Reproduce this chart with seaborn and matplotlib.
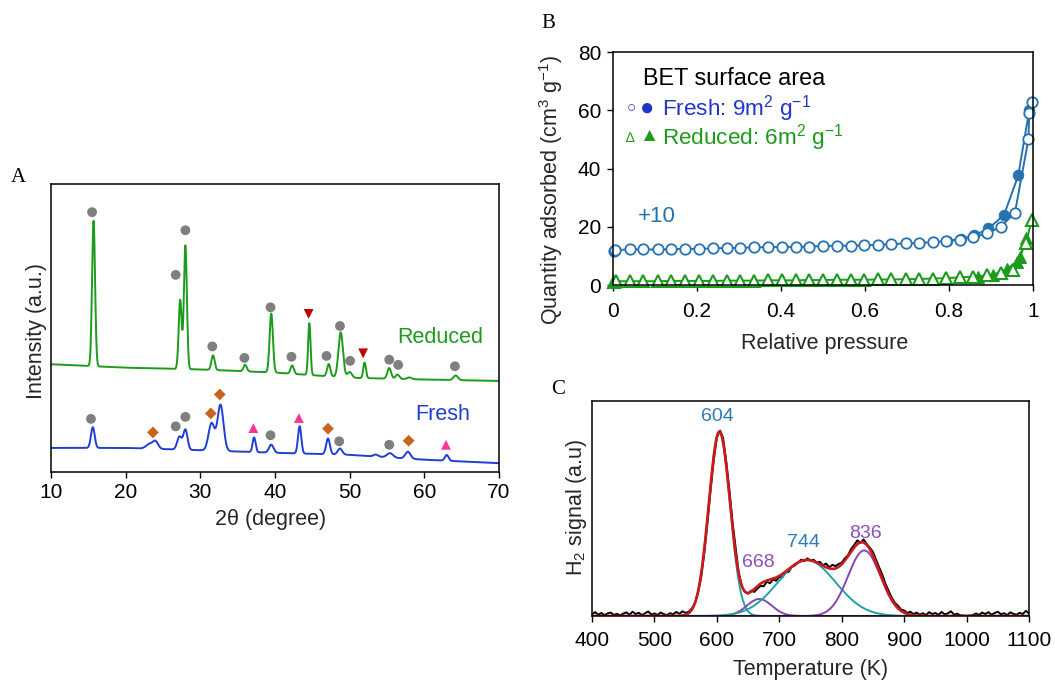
import numpy as np
import pandas as pd
import matplotlib
matplotlib.use("Agg")
import matplotlib.pyplot as plt
import seaborn as sns

sns.set_theme(style="ticks")
plt.rcParams["font.family"] = ["Liberation Sans", "DejaVu Sans"]
plt.rcParams["mathtext.fontset"] = "custom"
plt.rcParams["mathtext.rm"] = "Liberation Sans"
plt.rcParams["mathtext.it"] = "Liberation Sans:italic"
plt.rcParams["mathtext.bf"] = "Liberation Sans:bold"
plt.rcParams["axes.edgecolor"] = "black"
plt.rcParams["xtick.color"] = "black"
plt.rcParams["ytick.color"] = "black"
plt.rcParams["text.color"] = "black"

# ---------------- Panel A : XRD ----------------
xrd_baseline_2theta = [10, 20, 30, 40, 50, 60, 70]
reduced_baseline = [37.3, 36.1, 35.5, 34.4, 32.6, 32.0, 31.5]
fresh_baseline = [8.2, 8.2, 7.4, 6.5, 5.8, 4.1, 2.9]

reduced_peak_pos = [15.7, 27.3, 28.0, 31.7, 36.0, 39.5, 42.3, 44.6, 47.2, 48.8, 50.0, 52.0, 55.3, 56.4, 58.0, 64.2]
reduced_peak_height = [50.6, 24.0, 43.0, 5.1, 2.3, 20.5, 2.9, 18.0, 4.3, 15.6, 2.0, 5.4, 3.7, 1.5, 0.6, 1.6]
reduced_peak_width = [0.20, 0.20, 0.20, 0.22, 0.22, 0.22, 0.22, 0.16, 0.22, 0.30, 0.30, 0.18, 0.25, 0.25, 0.30, 0.30]

fresh_peak_pos = [15.6, 23.2, 24.0, 27.2, 28.0, 31.5, 32.7, 37.2, 39.5, 43.3, 47.1, 48.7, 53.5, 55.4, 57.8, 63.0]
fresh_peak_height = [7.2, 1.6, 2.5, 4.5, 7.0, 9.5, 16.0, 5.1, 2.8, 9.5, 5.5, 2.1, 0.7, 1.5, 2.4, 2.0]
fresh_peak_width = [0.25, 0.45, 0.35, 0.30, 0.28, 0.40, 0.40, 0.20, 0.30, 0.22, 0.25, 0.30, 0.30, 0.40, 0.35, 0.25]

# phase markers (2theta, intensity position)
red_circle_x = [15.5, 26.7, 28.0, 31.6, 35.9, 39.4, 42.2, 46.9, 48.7, 50.05, 55.3, 56.5, 64.1]
red_circle_y = [90.2, 68.4, 83.9, 43.5, 39.5, 57.1, 39.9, 40.2, 50.6, 38.5, 38.9, 37.1, 36.6]
red_invtri_x = [44.5, 51.8]
red_invtri_y = [54.8, 41.1]
fresh_circle_x = [15.35, 26.7, 28.0, 39.4, 48.6, 55.3]
fresh_circle_y = [18.3, 15.7, 19.0, 12.6, 10.5, 9.3]
fresh_diamond_x = [23.65, 31.4, 32.6, 47.1, 57.9]
fresh_diamond_y = [13.6, 20.2, 26.8, 14.9, 10.7]
fresh_tri_x = [37.1, 43.2, 62.9]
fresh_tri_y = [15.1, 18.6, 9.3]

# ---------------- Panel B : N2 isotherms ----------------
FRESH_OFFSET = 10
fresh_ads_p = [0.002, 0.005, 0.040, 0.072, 0.106, 0.138, 0.171, 0.205, 0.237, 0.271, 0.302, 0.336,
               0.368, 0.402, 0.435, 0.467, 0.499, 0.533, 0.566, 0.598, 0.632, 0.663, 0.697, 0.729,
               0.763, 0.794, 0.826, 0.858, 0.891, 0.923, 0.957, 0.989, 0.991, 0.997]
fresh_ads_q = [1.8, 2.0, 2.2, 2.2, 2.2, 2.3, 2.4, 2.4, 2.6, 2.7, 2.8, 2.9,
               3.0, 3.1, 3.1, 3.2, 3.4, 3.5, 3.5, 3.6, 3.8, 4.0, 4.3, 4.5,
               4.7, 5.1, 5.6, 6.5, 7.7, 10.0, 14.8, 40.0, 49.0, 53.0]
fresh_des_p = [0.991, 0.965, 0.931, 0.894, 0.860, 0.828, 0.796]
fresh_des_q = [50.0, 27.7, 14.0, 9.4, 7.0, 5.8, 5.2]

reduced_ads_p = [0.003, 0.008, 0.040, 0.072, 0.106, 0.138, 0.171, 0.205, 0.237, 0.271, 0.302, 0.336,
                 0.368, 0.402, 0.435, 0.467, 0.499, 0.533, 0.566, 0.598, 0.632, 0.663, 0.697, 0.729,
                 0.763, 0.794, 0.826, 0.858, 0.891, 0.923, 0.953, 0.983, 0.997]
reduced_ads_q = [1.2, 1.3, 1.3, 1.3, 1.3, 1.4, 1.4, 1.4, 1.4, 1.5, 1.5, 1.5,
                 1.6, 1.6, 1.6, 1.7, 1.7, 1.8, 1.8, 1.8, 1.9, 1.9, 2.0, 2.1,
                 2.2, 2.4, 2.6, 2.9, 3.3, 4.0, 5.3, 14.3, 22.3]
reduced_des_p = [0.983, 0.970, 0.961, 0.937, 0.905, 0.870]
reduced_des_q = [16.0, 9.7, 8.0, 5.4, 3.5, 2.9]

# ---------------- Panel C : H2-TPR ----------------
tpr_T_start, tpr_T_stop, tpr_T_step = 400, 1100, 5
tpr_signal = [
    0.008, 0.018, 0.006, 0.014, 0.004, 0.012, 0.016, 0.005, 0.010, 0.003,
    0.011, 0.017, 0.006, 0.020, 0.009, 0.015, 0.004, 0.013, 0.021, 0.007,
    0.012, 0.005, 0.016, 0.009, 0.004, 0.013, 0.008, 0.019, 0.010, 0.022,
    0.014, 0.020, 0.035, 0.060, 0.108, 0.182, 0.295, 0.432, 0.586, 0.722,
    0.830, 0.862, 0.828, 0.720, 0.590, 0.440, 0.318, 0.200, 0.138, 0.112,
    0.104, 0.118, 0.112, 0.128, 0.140, 0.138, 0.160, 0.152, 0.170, 0.164,
    0.182, 0.180, 0.202, 0.205, 0.228, 0.235, 0.248, 0.262, 0.255, 0.268,
    0.258, 0.262, 0.248, 0.252, 0.236, 0.244, 0.226, 0.238, 0.232, 0.242,
    0.248, 0.268, 0.282, 0.312, 0.330, 0.352, 0.340, 0.356, 0.335, 0.318,
    0.298, 0.262, 0.226, 0.192, 0.150, 0.118, 0.086, 0.062, 0.048, 0.030,
    0.026, 0.014, 0.020, 0.008, 0.016, 0.006, 0.013, 0.004, 0.018, 0.009,
    0.014, 0.005, 0.019, 0.008, 0.012, 0.022, 0.006, 0.011, 0.003, 0.002,
    0.001, 0.002, 0.004, 0.012, 0.005, 0.016, 0.009, 0.018, 0.006, 0.014,
    0.020, 0.008, 0.013, 0.004, 0.017, 0.010, 0.006, 0.015, 0.009, 0.024,
    0.012,
]
tpr_peak_center = [604, 668, 744, 836]
tpr_peak_height = [0.855, 0.079, 0.26, 0.305]
tpr_peak_sigma = [17, 20, 46, 26]
tpr_peak_label = ["604", "668", "744", "836"]

# ---------------- colours ----------------
GREEN = "#1c9c1c"
BLUE = "#1f3fd2"
GRAY = "#7f7f7f"
ORANGE = "#c8641e"
PINK = "#ff3399"
DARKRED = "#c00000"
BET_BLUE = "#2672b0"
TXT_BLUE = "#2036c8"
TEAL = "#22a3a0"
PURPLE = "#8a44b8"
FITRED = "#d01818"
LBL_BLUE = "#2d7ab5"
LBL_PURPLE = "#8e4cc0"


def gauss_sum(x, centers, heights, widths):
    x = np.asarray(x, dtype=float)
    out = np.zeros_like(x)
    for c, h, w in zip(centers, heights, widths):
        out += h * np.exp(-(x - c) ** 2 / (2.0 * w ** 2))
    return out


W, H = 1055, 685
fig = plt.figure(figsize=(W / 100, H / 100), dpi=100)


def add_axes_px(l, t, r, b):
    return fig.add_axes([l / W, 1 - b / H, (r - l) / W, (b - t) / H])


axA = add_axes_px(51, 184, 499, 471.5)
axB = add_axes_px(613, 52, 1033, 285)
axC = add_axes_px(592, 401, 1029, 616)

TICK_FS = 15
LABEL_FS = 15.5

for ax in (axA, axB, axC):
    for s in ax.spines.values():
        s.set_visible(True)
        s.set_color("black")
        s.set_linewidth(1.1)
    ax.tick_params(direction="out", length=4.5, width=1.0, labelsize=TICK_FS, pad=4)
    ax.set_facecolor("white")

# ---- Panel A
two_theta = np.linspace(10, 70, 3001)
reduced_curve = np.interp(two_theta, xrd_baseline_2theta, reduced_baseline) + gauss_sum(
    two_theta, reduced_peak_pos, reduced_peak_height, reduced_peak_width)
fresh_curve = np.interp(two_theta, xrd_baseline_2theta, fresh_baseline) + gauss_sum(
    two_theta, fresh_peak_pos, fresh_peak_height, fresh_peak_width)
dfA = pd.DataFrame({"tt": two_theta, "reduced": reduced_curve, "fresh": fresh_curve})
sns.lineplot(data=dfA, x="tt", y="reduced", ax=axA, color=GREEN, lw=1.4, estimator=None, sort=False)
sns.lineplot(data=dfA, x="tt", y="fresh", ax=axA, color=BLUE, lw=1.4, estimator=None, sort=False)

MS = 50
sns.scatterplot(x=red_circle_x, y=red_circle_y, ax=axA, marker="o", s=MS, color=GRAY, edgecolor="none")
sns.scatterplot(x=red_invtri_x, y=red_invtri_y, ax=axA, marker="v", s=MS, color=DARKRED, edgecolor="none")
sns.scatterplot(x=fresh_circle_x, y=fresh_circle_y, ax=axA, marker="o", s=MS, color=GRAY, edgecolor="none")
sns.scatterplot(x=fresh_diamond_x, y=fresh_diamond_y, ax=axA, marker="D", s=36, color=ORANGE, edgecolor="none")
sns.scatterplot(x=fresh_tri_x, y=fresh_tri_y, ax=axA, marker="^", s=MS, color=PINK, edgecolor="none")

axA.set_xlim(10, 70)
axA.set_ylim(0, 100)
axA.set_xticks([10, 20, 30, 40, 50, 60, 70])
axA.set_yticks([])
axA.set_xlabel("2θ (degree)", fontsize=LABEL_FS)
axA.set_ylabel("Intensity (a.u.)", fontsize=LABEL_FS)
axA.xaxis.set_label_coords(0.489, -0.13)
axA.yaxis.set_label_coords(-0.008, 0.49)
fig.text(440 / W, 1 - 337 / H, "Reduced", color=GREEN, fontsize=15.5, ha="center", va="center")
fig.text(443 / W, 1 - 415 / H, "Fresh", color=BLUE, fontsize=15.5, ha="center", va="center")

# ---- Panel B
dfB_fd = pd.DataFrame({"p": fresh_des_p, "q": np.add(fresh_des_q, FRESH_OFFSET)})
dfB_fa = pd.DataFrame({"p": fresh_ads_p, "q": np.add(fresh_ads_q, FRESH_OFFSET)})
dfB_rd = pd.DataFrame({"p": reduced_des_p, "q": reduced_des_q})
dfB_ra = pd.DataFrame({"p": reduced_ads_p, "q": reduced_ads_q})

sns.lineplot(data=dfB_fd, x="p", y="q", ax=axB, color=BET_BLUE, lw=1.4, marker="o", markersize=7.5,
             markerfacecolor=BET_BLUE, markeredgecolor=BET_BLUE, estimator=None, sort=False)
sns.lineplot(data=dfB_rd, x="p", y="q", ax=axB, color=GREEN, lw=1.4, marker="^", markersize=8.5,
             markerfacecolor=GREEN, markeredgecolor=GREEN, estimator=None, sort=False)
sns.lineplot(data=dfB_fa, x="p", y="q", ax=axB, color=BET_BLUE, lw=1.4, marker="o", markersize=7.5,
             markerfacecolor="white", markeredgecolor=BET_BLUE, markeredgewidth=1.3,
             estimator=None, sort=False)
sns.lineplot(data=dfB_ra, x="p", y="q", ax=axB, color=GREEN, lw=1.4, marker="^", markersize=9,
             markerfacecolor="white", markeredgecolor=GREEN, markeredgewidth=1.5,
             estimator=None, sort=False)
for ln in axB.lines:
    ln.set_clip_on(False)

axB.set_xlim(0, 1.0)
axB.set_ylim(0, 80)
axB.set_xticks([0, 0.2, 0.4, 0.6, 0.8, 1.0])
axB.set_xticklabels(["0", "0.2", "0.4", "0.6", "0.8", "1"])
axB.set_yticks([0, 20, 40, 60, 80])
axB.tick_params(axis="x", pad=8)
axB.set_xlabel("Relative pressure", fontsize=LABEL_FS)
axB.set_ylabel("Quantity adsorbed (cm$^3$ g$^{-1}$)", fontsize=LABEL_FS)
axB.xaxis.set_label_coords(0.505, -0.205)
axB.yaxis.set_label_coords(-0.115, 0.41)

LEG_FS = 16.2
axB.text(0.071, 0.888, "BET surface area", transform=axB.transAxes, fontsize=16.8, ha="left", va="center")
axB.text(0.033, 0.757, "○", transform=axB.transAxes, fontsize=11, color=TXT_BLUE, ha="left", va="center")
axB.text(0.064, 0.757, "●", transform=axB.transAxes, fontsize=17, color=TXT_BLUE, ha="left", va="center")
axB.text(0.117, 0.757, "Fresh: 9m$^2$ g$^{-1}$", transform=axB.transAxes, fontsize=LEG_FS,
         color=TXT_BLUE, ha="left", va="center")
axB.text(0.031, 0.632, "∆", transform=axB.transAxes, fontsize=10, color=GREEN, ha="left", va="center")
axB.text(0.061, 0.636, "▲", transform=axB.transAxes, fontsize=14, color=GREEN, ha="left", va="center")
axB.text(0.117, 0.632, "Reduced: 6m$^2$ g$^{-1}$", transform=axB.transAxes, fontsize=LEG_FS,
         color=GREEN, ha="left", va="center")
axB.text(0.105, 0.292, "+10", transform=axB.transAxes, fontsize=16, color=BET_BLUE, ha="center", va="center")

# ---- Panel C
tpr_T = np.arange(tpr_T_start, tpr_T_stop + 1, tpr_T_step)
assert len(tpr_T) == len(tpr_signal)
dfC = pd.DataFrame({"T": tpr_T, "signal": tpr_signal})
T_fit = np.arange(400, 1101, 1)
comp_colors = [TEAL, PURPLE, TEAL, PURPLE]
label_colors = [LBL_BLUE, LBL_PURPLE, LBL_BLUE, LBL_PURPLE]

sns.lineplot(data=dfC, x="T", y="signal", ax=axC, color="black", lw=1.4, estimator=None, sort=False)
for c, h, s, col in zip(tpr_peak_center, tpr_peak_height, tpr_peak_sigma, comp_colors):
    comp = gauss_sum(T_fit, [c], [h], [s])
    sns.lineplot(x=T_fit, y=comp, ax=axC, color=col, lw=1.4, estimator=None, sort=False)
fit_total = gauss_sum(T_fit, tpr_peak_center, tpr_peak_height, tpr_peak_sigma)
sns.lineplot(x=T_fit, y=fit_total, ax=axC, color=FITRED, lw=1.9, estimator=None, sort=False)

label_pos = [(601, 0.926), (667, 0.247), (738, 0.34), (838, 0.386)]
for (lx, ly), txt, col in zip(label_pos, tpr_peak_label, label_colors):
    axC.text(lx, ly, txt, color=col, fontsize=14, ha="center", va="center")

axC.set_xlim(400, 1100)
axC.set_ylim(0, 1.0)
axC.set_xticks(list(range(400, 1101, 100)))
axC.set_yticks([])
axC.tick_params(axis="x", pad=6)
axC.set_xlabel("Temperature (K)", fontsize=LABEL_FS)
axC.set_ylabel("H$_2$ signal (a.u)", fontsize=LABEL_FS)
axC.xaxis.set_label_coords(0.499, -0.2)
axC.yaxis.set_label_coords(-0.006, 0.507)

for ax in (axA, axB, axC):
    leg = ax.get_legend()
    if leg is not None:
        leg.remove()

# panel letters
fig.text(18 / W, 1 - 177 / H, "A", family="Liberation Serif", fontsize=15, ha="center", va="center")
fig.text(548 / W, 1 - 23 / H, "B", family="Liberation Serif", fontsize=15, ha="center", va="center")
fig.text(558 / W, 1 - 390 / H, "C", family="Liberation Serif", fontsize=15, ha="center", va="center")

fig.savefig("out.png", dpi=100, facecolor="white")
